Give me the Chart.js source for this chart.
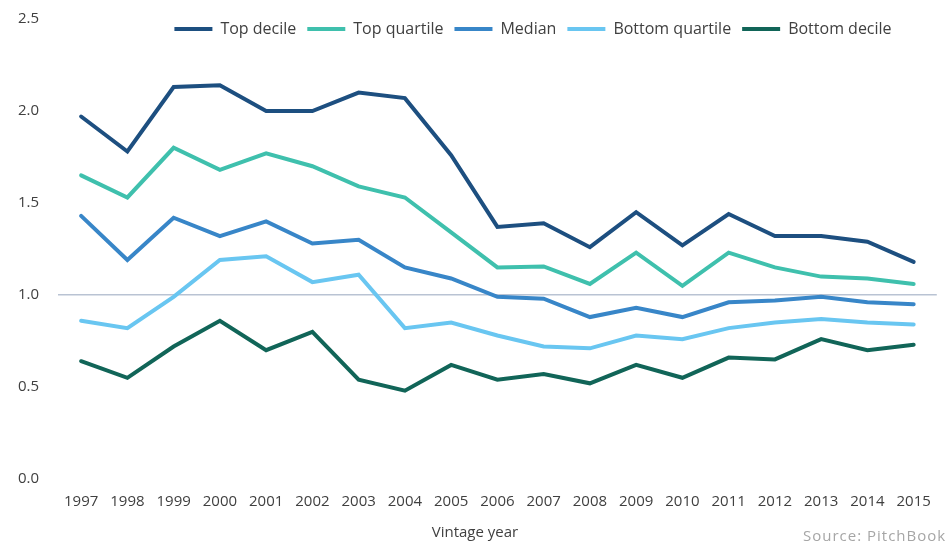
<!DOCTYPE html>
<html>
<head>
<meta charset="utf-8">
<script src="https://cdn.jsdelivr.net/npm/chart.js@4/dist/chart.umd.min.js"></script>
<style>
  html, body { margin: 0; padding: 0; background: #fff; }
  #wrap { width: 945px; height: 543px; }
</style>
</head>
<body>
<div id="wrap"><canvas id="chart" width="945" height="543"></canvas></div>
<script>
// data
var years = ['1997','1998','1999','2000','2001','2002','2003','2004','2005','2006',
             '2007','2008','2009','2010','2011','2012','2013','2014','2015'];
var topDecile      = [1.97,1.78,2.13,2.14,2.00,2.00,2.10,2.07,1.76,1.37,1.39,1.26,1.45,1.27,1.44,1.32,1.32,1.29,1.18];
var topQuartile    = [1.65,1.53,1.80,1.68,1.77,1.70,1.59,1.53,1.34,1.15,1.155,1.06,1.23,1.05,1.23,1.15,1.10,1.09,1.06];
var median         = [1.43,1.19,1.42,1.32,1.40,1.28,1.30,1.15,1.09,0.99,0.98,0.88,0.93,0.88,0.96,0.97,0.99,0.96,0.95];
var bottomQuartile = [0.86,0.82,0.99,1.19,1.21,1.07,1.11,0.82,0.85,0.78,0.72,0.71,0.78,0.76,0.82,0.85,0.87,0.85,0.84];
var bottomDecile   = [0.64,0.55,0.72,0.86,0.70,0.80,0.54,0.48,0.62,0.54,0.57,0.52,0.62,0.55,0.66,0.65,0.76,0.70,0.73];

var FONT = "'Open Sans', 'DejaVu Sans', sans-serif";
var textColor = '#404040';

function serie(label, data, color) {
	return {
		label: label,
		data: data,
		borderColor: color,
		backgroundColor: color,
		borderWidth: 4,
		borderCapStyle: 'round',
		pointRadius: 0,
		pointHoverRadius: 0,
		tension: 0,
		fill: false
	};
}

// legend sits over the plot in the original: push it down and right
var legendShift = {
	id: 'legendShift',
	afterLayout: function (chart) {
		var lg = chart.legend;
		if (!lg) return;
		var dx = 55, dy = 28;
		lg.left += dx; lg.right += dx;
		lg.top += dy; lg.bottom += dy;
	}
};

// axis title and source note
var notes = {
	id: 'notes',
	afterDraw: function (chart) {
		var ctx = chart.ctx;
		ctx.save();
		ctx.textBaseline = 'middle';
		ctx.font = '15px ' + FONT;
		ctx.fillStyle = textColor;
		ctx.textAlign = 'center';
		ctx.fillText('Vintage year', 475, 533);
		ctx.fillStyle = '#a6a6a6';
		ctx.letterSpacing = '1px';
		ctx.textAlign = 'left';
		ctx.fillText('Source: PitchBook', 803, 537);
		ctx.restore();
	}
};

myChart = new Chart(document.getElementById('chart'), {
	type: 'line',
	data: {
		labels: years,
		datasets: [
			serie('Top decile', topDecile, '#1d4f80'),
			serie('Top quartile', topQuartile, '#3fc0ad'),
			serie('Median', median, '#3886c8'),
			serie('Bottom quartile', bottomQuartile, '#69c6f1'),
			serie('Bottom decile', bottomDecile, '#116558')
		]
	},
	options: {
		responsive: false,
		animation: false,
		layout: { padding: { left: 18, top: -26, right: 7, bottom: 18 } },
		plugins: {
			legend: {
				position: 'top',
				align: 'center',
				labels: {
					usePointStyle: true,
					pointStyle: 'line',
					pointStyleWidth: 38,
					padding: 11,
					color: textColor,
					font: { family: FONT, size: 16 }
				}
			},
			tooltip: { enabled: false }
		},
		scales: {
			x: {
				offset: true,
				grid: { display: false, drawTicks: false },
				border: { display: false },
				ticks: {
					color: textColor,
					padding: 14,
					maxRotation: 0,
					autoSkip: false,
					font: { family: FONT, size: 15 }
				}
			},
			y: {
				min: 0,
				max: 2.5,
				border: { display: false },
				afterFit: function (scale) { scale.width = 40; },
				grid: {
					drawTicks: false,
					lineWidth: 1.5,
					color: function (c) {
						return c.tick && c.tick.value === 1 ? '#b9c3d3' : 'rgba(0,0,0,0)';
					}
				},
				ticks: {
					stepSize: 0.5,
					padding: 10,
					crossAlign: 'far',
					color: textColor,
					font: { family: FONT, size: 15 },
					callback: function (v) { return v.toFixed(1); }
				}
			}
		}
	},
	plugins: [legendShift, notes]
});
</script>
</body>
</html>
